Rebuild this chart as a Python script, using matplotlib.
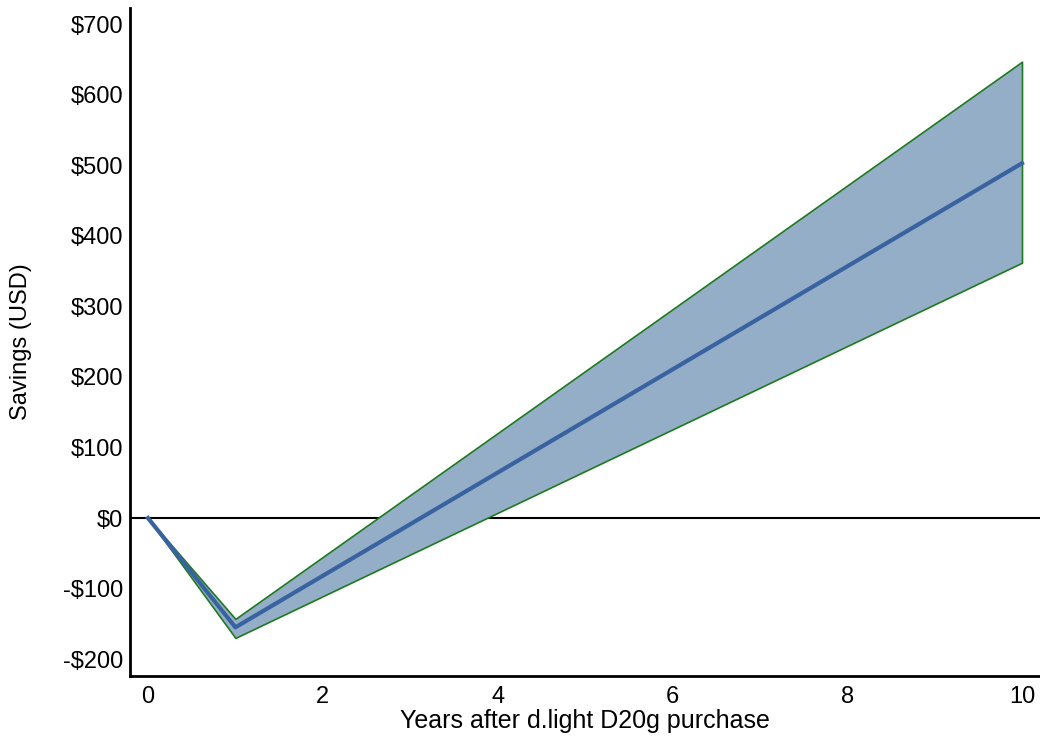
import matplotlib.pyplot as plt
from matplotlib.ticker import FuncFormatter

plt.rcParams['font.family'] = ['Liberation Sans', 'DejaVu Sans']

years = [0, 1, 10]
mean_savings = [0, -155, 503]
upper_savings = [0, -143, 647]
lower_savings = [0, -170, 362]

x_ticks = [0, 2, 4, 6, 8, 10]
y_ticks = [-200, -100, 0, 100, 200, 300, 400, 500, 600, 700]


def dollars(v, pos):
    v = int(round(v))
    return f'-${-v}' if v < 0 else f'${v}'


fig = plt.figure(figsize=(10.4, 7.36), dpi=100)
ax = fig.add_axes([0.125, 0.0815, 0.875, 0.9075])

ax.fill_between(years, lower_savings, upper_savings, facecolor='#94aec8',
                edgecolor='#1f7a1f', linewidth=1.2, zorder=2)
ax.plot(years, mean_savings, color='#3862a0', linewidth=3, zorder=3)
ax.axhline(0, color='black', linewidth=1.5, zorder=1)

ax.set_xlim(-0.206, 10.206)
ax.set_ylim(-224, 723)
ax.set_xticks(x_ticks)
ax.set_yticks(y_ticks)
ax.yaxis.set_major_formatter(FuncFormatter(dollars))
ax.tick_params(length=0, labelsize=17)
ax.tick_params(axis='x', pad=7)
ax.tick_params(axis='y', pad=5)

for side in ['top', 'right']:
    ax.spines[side].set_visible(False)
for side in ['left', 'bottom']:
    ax.spines[side].set_linewidth(2)

ax.set_xlabel('Years after d.light D20g purchase', fontsize=18, labelpad=1)
ax.set_ylabel('Savings (USD)', fontsize=17, labelpad=22)

fig.savefig('out.png', dpi=100)
